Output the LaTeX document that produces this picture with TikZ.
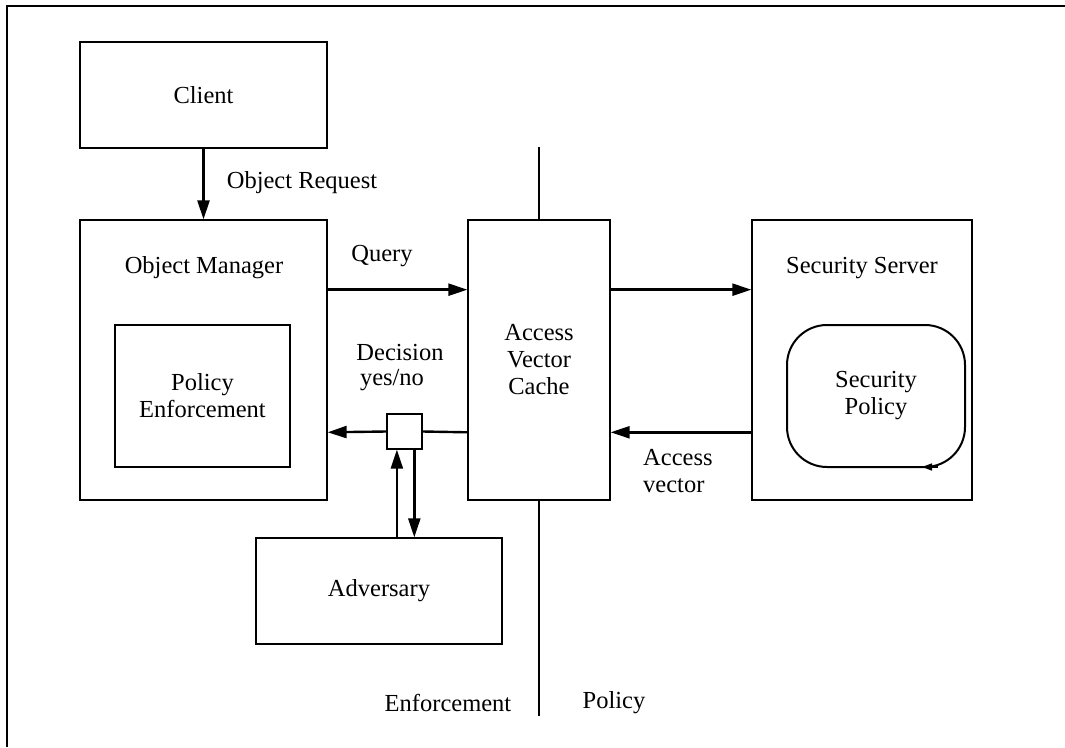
\documentclass[tikz,border=0pt]{standalone}
\usepackage{fontspec}
\setmainfont{Liberation Serif}
\usetikzlibrary{arrows.meta,calc}
\begin{document}
\begin{tikzpicture}[x=1pt,y=-1pt,
  every node/.style={font=\fontsize{24.5}{27}\selectfont},
  box/.style={draw,line width=1.3pt,inner sep=0pt,align=center},
  flow/.style={line width=2.4pt,-{Triangle[length=19pt,width=12pt]}},
  plain/.style={line width=2.4pt},
  txt/.style={inner sep=0pt,align=center}]
\useasboundingbox (0,0) rectangle (1065,747);

% outer frame (left and top edges)
\draw[line width=2.5pt] (7,747) -- (7,6) -- (1065,6);

% boxes
\node[box,minimum width=247pt,minimum height=106pt] (client) at (203.5,95) {Client};
\node[box,minimum width=247pt,minimum height=280pt] (om) at (203.5,360) {};
\node[box,minimum width=175pt,minimum height=142pt] (pe) at (202.5,396) {Policy\\Enforcement};
\node[box,minimum width=142pt,minimum height=280pt] (avc) at (539,360) {Access\\Vector\\Cache};
\node[box,minimum width=220pt,minimum height=280pt] (ss) at (862,360) {};
\node[draw,line width=2pt,rounded corners=40pt,minimum width=178pt,minimum height=142pt,
      inner sep=0pt,align=center] (sp) at (876,396) {Security\\Policy};
\node[box,minimum width=246pt,minimum height=106pt] (adv) at (379,591) {Adversary};
\node[box,minimum width=35pt,minimum height=35pt] (sb) at (404.5,431.5) {};

% box titles
\node[txt] (omt) at (204,268) {Object Manager};
\node[txt] (sst) at (862,268) {Security Server};

% enforcement / policy divider
\draw[line width=1.3pt] (avc.north) -- ++(0,-72) coordinate (divtop);
\draw[line width=1.3pt] (avc.south) -- ++(0,215) coordinate (divbot);

% request from client
\draw[flow] (client.south) -- (om.north);
\node[txt] (req) at (302,183) {Object Request};

% query path
\draw[flow] ($(om.north east)!0.25!(om.south east)$) -- ($(avc.north west)!0.25!(avc.south west)$);
\node[txt] (qry) at (382,256) {Query};
\draw[flow] ($(avc.north east)!0.25!(avc.south east)$) -- ($(ss.north west)!0.25!(ss.south west)$);

% answer path
\draw[flow] ($(ss.north west)!0.757!(ss.south west)$) -- ($(avc.north east)!0.757!(avc.south east)$);
\node[txt,align=left,anchor=west] (av) at (643,471) {Access\\vector};
\draw[plain] ($(avc.north west)!0.757!(avc.south west)$) -- (sb.east);
\draw[flow] (sb.west) -- ($(om.north east)!0.757!(om.south east)$);
\node[txt] (dec) at (400,353) {Decision};
\node[txt] (yn) at (392,380) {yes/no};

% adversary tap
\coordinate (up) at ($(sb.south west)!0.29!(sb.south east)$);
\coordinate (dn) at ($(sb.south west)!0.77!(sb.south east)$);
\draw[flow] (up |- adv.north) -- (up);
\draw[flow] (dn) -- (dn |- adv.north);

% loop mark on the policy
\draw[line width=1.5pt,-{Triangle[length=10pt,width=7pt]}] (938,467) -- (922,467);

% domain labels
\node[txt] (enf) at (448,703) {Enforcement};
\node[txt] (pol) at (614,703) {Policy};
\end{tikzpicture}
\end{document}
